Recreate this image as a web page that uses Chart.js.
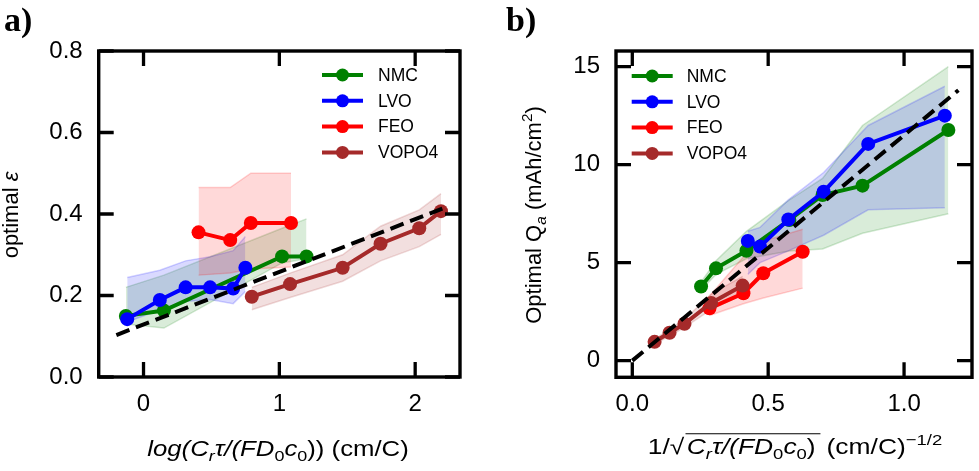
<!DOCTYPE html>
<html>
<head>
<meta charset="utf-8">
<script src="https://cdn.jsdelivr.net/npm/chart.js@4.4.1/dist/chart.umd.min.js"></script>
<style>
  body { margin: 0; background: #fff; }
  #wrap { position: relative; width: 979px; height: 471px; }
  #ca { position: absolute; left: 0; top: 0; }
  #cb { position: absolute; left: 490px; top: 0; }
</style>
</head>
<body>
<div id="wrap">
  <canvas id="ca" width="490" height="471"></canvas>
  <canvas id="cb" width="489" height="471"></canvas>
</div>
<script>
const names = ['NMC', 'LVO', 'FEO', 'VOPO4'];
const colors = ['#008000', '#0000ff', '#ff0000', '#a52a2a'];
const bandRgb = ['0,128,0', '0,0,255', '255,0,0', '165,42,42'];

// panel a) optimal porosity vs log(C_r tau/(F D0 c0))
const nmcAx = [-0.13, 0.15, 1.02, 1.20];
const nmcAy = [0.150, 0.163, 0.296, 0.296];
const nmcAhi = [0.22, 0.25, 0.365, 0.388];
const nmcAlo = [0.13, 0.12, 0.28, 0.29];

const lvoAx = [-0.12, 0.12, 0.31, 0.49, 0.66, 0.75];
const lvoAy = [0.142, 0.189, 0.220, 0.220, 0.217, 0.268];
const lvoAhi = [0.244, 0.262, 0.285, 0.295, 0.31, 0.345];
const lvoAlo = [0.135, 0.165, 0.185, 0.19, 0.18, 0.21];

const feoAx = [0.405, 0.638, 0.79, 1.086];
const feoAy = [0.355, 0.336, 0.378, 0.378];
const feoAhi = [0.465, 0.465, 0.50, 0.50];
const feoAlo = [0.25, 0.255, 0.265, 0.27];

const vopAx = [0.797, 1.079, 1.466, 1.745, 2.03, 2.19];
const vopAy = [0.197, 0.228, 0.268, 0.327, 0.365, 0.407];
const vopAhi = [0.22, 0.255, 0.30, 0.37, 0.41, 0.45];
const vopAlo = [0.165, 0.195, 0.235, 0.285, 0.32, 0.35];

const fitAx = [-0.2, 2.2];
const fitAy = [0.103, 0.413];

const xTicksA = [0, 1, 2];
const xLabelsA = ['0', '1', '2'];
const yTicksA = [0, 0.2, 0.4, 0.6, 0.8];
const yLabelsA = ['0.0', '0.2', '0.4', '0.6', '0.8'];

// panel b) optimal areal capacity vs 1/sqrt(...)
const nmcBx = [0.253, 0.308, 0.42, 0.578, 0.70, 0.847, 1.163];
const nmcBy = [3.78, 4.71, 5.61, 7.18, 8.45, 8.93, 11.77];
const nmcBhi = [4.0, 5.1, 6.6, 8.2, 9.3, 12.0, 15.0];
const nmcBlo = [3.6, 4.4, 5.2, 5.6, 5.7, 6.5, 7.5];

const lvoBx = [0.425, 0.47, 0.574, 0.704, 0.868, 1.15];
const lvoBy = [6.11, 5.82, 7.20, 8.62, 11.06, 12.5];
const lvoBhi = [6.6, 6.8, 8.2, 9.6, 12.0, 14.0];
const lvoBlo = [4.4, 5.0, 5.6, 6.4, 7.7, 7.8];

const feoBx = [0.284, 0.409, 0.482, 0.627];
const feoBy = [2.67, 3.44, 4.46, 5.56];
const feoBhi = [3.3, 5.3, 6.1, 6.7];
const feoBlo = [2.3, 2.9, 3.2, 3.7];

const vopBx = [0.082, 0.137, 0.192, 0.29, 0.406];
const vopBy = [0.96, 1.42, 1.88, 2.94, 3.83];
const vopBhi = [1.1, 1.6, 2.1, 3.4, 4.3];
const vopBlo = [0.85, 1.25, 1.7, 2.6, 3.4];

const fitBx = [0.0, 1.2];
const fitBy = [0.0, 13.8];

const xTicksB = [0, 0.5, 1.0];
const xLabelsB = ['0.0', '0.5', '1.0'];
const yTicksB = [0, 5, 10, 15];
const yLabelsB = ['0', '5', '10', '15'];

const FAM = '"Liberation Sans", Arial, sans-serif';

function pts(xs, ys) {
  return xs.map((x, i) => ({ x: x, y: ys[i] }));
}

function buildDatasets(series, fit) {
  const ds = [{
    data: pts(fit[0], fit[1]),
    showLine: true, borderColor: '#000', borderWidth: 4,
    borderDash: [14, 7], pointRadius: 0, fill: false, order: 0
  }];
  series.forEach((s, k) => {
    ds.push({
      data: pts(s[0], s[1]),
      showLine: true, borderColor: colors[k], borderWidth: 4,
      pointRadius: 7, pointBackgroundColor: colors[k], pointBorderWidth: 0,
      fill: false, order: 4 - k
    });
  });
  series.forEach((s, k) => {
    ds.push({
      data: pts(s[0], s[2]),
      showLine: true, borderColor: 'rgba(' + bandRgb[k] + ',0.18)', borderWidth: 1.5,
      backgroundColor: 'rgba(' + bandRgb[k] + ',0.15)',
      pointRadius: 0, fill: '+1', order: 20 - 2 * k
    });
    ds.push({
      data: pts(s[0], s[3]),
      showLine: true, borderColor: 'rgba(' + bandRgb[k] + ',0.18)', borderWidth: 1.5,
      pointRadius: 0, fill: false, order: 19 - 2 * k
    });
  });
  return ds;
}

function fontOf(p, size) {
  let sz = size;
  if (p.sub || p.sup) sz = size * 0.7;
  return (p.it ? 'italic ' : '') + sz + 'px ' + FAM;
}

// draws mixed italic/sub/sup text centred on cx, with a horizontal stretch
function drawRich(ctx, parts, cx, y, size, stretch) {
  ctx.save();
  ctx.translate(cx, y);
  ctx.scale(stretch, 1);
  let total = 0;
  parts.forEach(p => { ctx.font = fontOf(p, size); p.w = ctx.measureText(p.t).width + (p.gap || 0); total += p.w; });
  let x = -total / 2;
  let ovStart = null, ovEnd = null;
  ctx.textAlign = 'left';
  ctx.textBaseline = 'alphabetic';
  parts.forEach(p => {
    ctx.font = fontOf(p, size);
    let dy = 0;
    if (p.sub) dy = size * 0.22;
    if (p.sup) dy = -size * 0.4;
    ctx.fillText(p.t, x, dy);
    if (p.over) { if (ovStart === null) ovStart = x; ovEnd = x + p.w; }
    x += p.w;
  });
  if (ovStart !== null) {
    ctx.beginPath();
    ctx.lineWidth = 1.2;
    ctx.moveTo(ovStart - 1, -size * 0.92);
    ctx.lineTo(ovEnd + 1, -size * 0.92);
    ctx.stroke();
  }
  ctx.restore();
}

function makeDecor(cfg) {
  return {
    id: 'decor' + cfg.label,
    afterDraw(chart) {
      const ctx = chart.ctx;
      const a = chart.chartArea;
      const sx = chart.scales.x, sy = chart.scales.y;
      ctx.save();
      ctx.strokeStyle = '#000';
      ctx.fillStyle = '#000';
      // inward ticks on all four sides
      ctx.lineWidth = 3.3;
      ctx.beginPath();
      cfg.xTicks.forEach(v => {
        const px = sx.getPixelForValue(v);
        ctx.moveTo(px, a.bottom); ctx.lineTo(px, a.bottom - 15);
        ctx.moveTo(px, a.top); ctx.lineTo(px, a.top + 15);
      });
      cfg.yTicks.forEach(v => {
        const py = sy.getPixelForValue(v);
        ctx.moveTo(a.left, py); ctx.lineTo(a.left + 15, py);
        ctx.moveTo(a.right, py); ctx.lineTo(a.right - 15, py);
      });
      ctx.stroke();
      ctx.lineWidth = 3.4;
      ctx.strokeRect(a.left, a.top, a.right - a.left, a.bottom - a.top);

      // legend
      names.forEach((n, i) => {
        const y = cfg.legY + i * 25.8;
        ctx.strokeStyle = colors[i];
        ctx.lineWidth = 4;
        ctx.beginPath();
        ctx.moveTo(cfg.legX0, y); ctx.lineTo(cfg.legX1, y);
        ctx.stroke();
        ctx.fillStyle = colors[i];
        ctx.beginPath();
        ctx.arc((cfg.legX0 + cfg.legX1) / 2, y, 6.5, 0, Math.PI * 2);
        ctx.fill();
        ctx.fillStyle = '#000';
        ctx.font = '17.5px ' + FAM;
        ctx.textAlign = 'left';
        ctx.textBaseline = 'middle';
        ctx.fillText(n, cfg.legText, y + 1);
      });

      // axis titles
      ctx.fillStyle = '#000';
      ctx.strokeStyle = '#000';
      drawRich(ctx, cfg.xTitle, cfg.xTitleX, cfg.xTitleY, 22, cfg.xStretch);
      ctx.save();
      ctx.translate(cfg.yTitleX, cfg.yTitleY);
      ctx.rotate(-Math.PI / 2);
      drawRich(ctx, cfg.yTitle, 0, 0, 22, 1);
      ctx.restore();

      // panel label
      ctx.font = 'bold 34px "Liberation Serif", "Times New Roman", serif';
      ctx.textAlign = 'left';
      ctx.textBaseline = 'alphabetic';
      ctx.fillText(cfg.label, cfg.labelX, 31);
      ctx.restore();
    }
  };
}

function makeChart(id, series, fit, ax, cfg) {
  const tickFont = { size: 24, family: FAM };
  return new Chart(document.getElementById(id), {
    type: 'scatter',
    data: { datasets: buildDatasets(series, fit) },
    options: {
      responsive: false,
      animation: false,
      layout: { padding: { left: 0, right: ax.padRight, top: 51, bottom: 0 } },
      plugins: { legend: { display: false }, tooltip: { enabled: false } },
      scales: {
        x: {
          type: 'linear', min: ax.xMin, max: ax.xMax,
          afterBuildTicks: s => { s.ticks = cfg.xTicks.map(v => ({ value: v })); },
          afterFit: s => { s.height = ax.xHeight; },
          ticks: { callback: (v, i) => ax.xLabels[i], font: tickFont, color: '#000', padding: 13, autoSkip: false, maxRotation: 0 },
          grid: { display: false, drawTicks: false },
          border: { display: false }
        },
        y: {
          type: 'linear', min: ax.yMin, max: ax.yMax,
          afterBuildTicks: s => { s.ticks = cfg.yTicks.map(v => ({ value: v })); },
          afterFit: s => { s.width = ax.yWidth; },
          ticks: { callback: (v, i) => ax.yLabels[i], font: tickFont, color: '#000', padding: 16, autoSkip: false },
          grid: { display: false, drawTicks: false },
          border: { display: false }
        }
      }
    },
    plugins: [makeDecor(cfg)]
  });
}

makeChart('ca',
  [[nmcAx, nmcAy, nmcAhi, nmcAlo], [lvoAx, lvoAy, lvoAhi, lvoAlo],
   [feoAx, feoAy, feoAhi, feoAlo], [vopAx, vopAy, vopAhi, vopAlo]],
  [fitAx, fitAy],
  { xMin: -0.33, xMax: 2.33, yMin: 0, yMax: 0.8, padRight: 30, xHeight: 94, yWidth: 98.7,
    xLabels: xLabelsA, yLabels: yLabelsA },
  { label: 'a)', labelX: 4, xTicks: xTicksA, yTicks: yTicksA,
    legX0: 322, legX1: 363, legText: 378, legY: 75,
    xTitleX: 278, xTitleY: 456, xStretch: 1.17, yTitleX: 18, yTitleY: 215,
    xTitle: [{ t: 'log(', it: true }, { t: 'C', it: true }, { t: 'r', it: true, sub: true },
             { t: 'τ/(', it: true }, { t: 'FD', it: true }, { t: '0', sub: true },
             { t: 'c', it: true }, { t: '0', sub: true }, { t: '))' }, { t: ' (cm/C)' }],
    yTitle: [{ t: 'optimal ' }, { t: 'ε', it: true }] });

makeChart('cb',
  [[nmcBx, nmcBy, nmcBhi, nmcBlo], [lvoBx, lvoBy, lvoBhi, lvoBlo],
   [feoBx, feoBy, feoBhi, feoBlo], [vopBx, vopBy, vopBhi, vopBlo]],
  [fitBx, fitBy],
  { xMin: -0.06, xMax: 1.25, yMin: -0.85, yMax: 15.8, padRight: 5.7, xHeight: 93.7, yWidth: 126,
    xLabels: xLabelsB, yLabels: yLabelsB },
  { label: 'b)', labelX: 16, xTicks: xTicksB, yTicks: yTicksB,
    legX0: 141.7, legX1: 182.7, legText: 196.7, legY: 76,
    xTitleX: 305, xTitleY: 454, xStretch: 1.2, yTitleX: 51, yTitleY: 215,
    xTitle: [{ t: '1/' }, { t: '√', gap: 2 }, { t: 'C', it: true, over: true }, { t: 'r', it: true, sub: true, over: true },
             { t: 'τ/(', it: true, over: true }, { t: 'FD', it: true, over: true }, { t: '0', sub: true, over: true },
             { t: 'c', it: true, over: true }, { t: '0', sub: true, over: true }, { t: ')', over: true, gap: 3 },
             { t: ' (cm/C)' }, { t: '−1/2', sup: true }],
    yTitle: [{ t: 'Optimal Q' }, { t: 'a', it: true, sub: true }, { t: ' (mAh/cm' }, { t: '2', sup: true }, { t: ')' }] });
</script>
</body>
</html>
